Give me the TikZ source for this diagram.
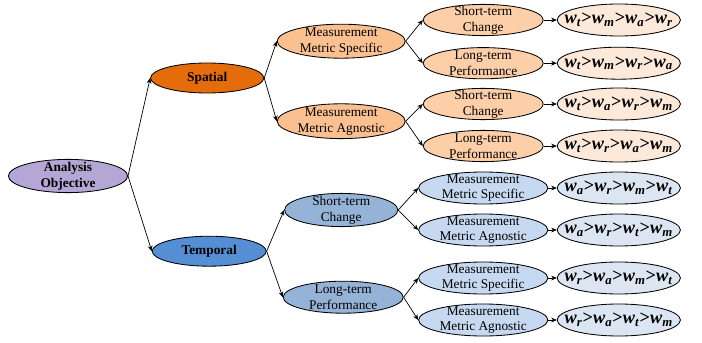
\documentclass[tikz,border=0pt]{standalone}
\usepackage{fontspec}
\setmainfont{Liberation Serif}
\usetikzlibrary{arrows.meta,positioning,shapes.geometric}
\definecolor{rootc}{HTML}{B4A7D6}
\definecolor{spac}{HTML}{E46C0A}
\definecolor{temc}{HTML}{558ED5}
\definecolor{orgB}{HTML}{FAC090}
\definecolor{orgC}{HTML}{FCCFA8}
\definecolor{orgD}{HTML}{FDE9D9}
\definecolor{bluB}{HTML}{95B3D7}
\definecolor{bluC}{HTML}{C6D9F1}
\definecolor{bluD}{HTML}{DCE6F2}
\newcommand{\wsub}[1]{\textit{w}\textsubscript{\textit{#1}}}
\newcommand{\rank}[4]{\textbf{\wsub{#1}>\wsub{#2}>\wsub{#3}>\wsub{#4}}}

\begin{document}
\begin{tikzpicture}[
    ell/.style={draw, ellipse, inner xsep=0pt, inner ysep=-4pt, align=center, font=\fontsize{9.5}{11.2}\selectfont, line width=0.6pt},
    res/.style={ell, inner xsep=-14pt, inner ysep=-2pt, minimum width=3.08cm, minimum height=0.8cm, font=\fontsize{13}{15}\selectfont},
    arr/.style={-{Stealth[length=1.4mm, width=1.2mm]}, line width=0.5pt, black},
]
\useasboundingbox (0,0) rectangle (17.55,-8.575);
% root and first level
\node[ell, fill=rootc, minimum width=2.98cm, minimum height=0.83cm, font=\fontsize{9.5}{11.2}\selectfont\bfseries] (root) at (1.70,-4.40) {Analysis\\Objective};
\node[ell, fill=spac, minimum width=2.83cm, minimum height=0.75cm, font=\fontsize{9.5}{11.2}\selectfont\bfseries] (spa) at (5.18,-1.95) {Spatial};
\node[ell, fill=temc, minimum width=2.85cm, minimum height=0.75cm, font=\fontsize{9.5}{11.2}\selectfont\bfseries] (tem) at (5.23,-6.28) {Temporal};

% second level
\node[ell, fill=orgB, minimum width=3.2cm, minimum height=0.85cm] (spams) at (8.53,-1.03) {Measurement\\Metric Specific};
\node[ell, fill=orgB, minimum width=3.2cm, minimum height=0.87cm] (spama) at (8.53,-3.03) {Measurement\\Metric Agnostic};
\node[ell, fill=bluB, minimum width=2.83cm, minimum height=0.83cm] (temsc) at (8.53,-5.25) {Short-term\\Change};
\node[ell, fill=bluB, minimum width=3.0cm, minimum height=0.8cm] (temlp) at (8.58,-7.43) {Long-term\\Performance};

% third level
\node[ell, fill=orgC, minimum width=3.0cm, minimum height=0.78cm] (sc1) at (12.08,-0.50) {Short-term\\Change};
\node[ell, fill=orgC, minimum width=3.0cm, minimum height=0.78cm] (lp1) at (12.08,-1.58) {Long-term\\Performance};
\node[ell, fill=orgC, minimum width=3.0cm, minimum height=0.78cm] (sc2) at (12.08,-2.60) {Short-term\\Change};
\node[ell, fill=orgC, minimum width=3.0cm, minimum height=0.78cm] (lp2) at (12.08,-3.65) {Long-term\\Performance};
\node[ell, fill=bluC, minimum width=3.23cm, minimum height=0.8cm] (ms1) at (12.08,-4.70) {Measurement\\Metric Specific};
\node[ell, fill=bluC, minimum width=3.23cm, minimum height=0.8cm] (ma1) at (12.08,-5.75) {Measurement\\Metric Agnostic};
\node[ell, fill=bluC, minimum width=3.23cm, minimum height=0.8cm] (ms2) at (12.08,-6.95) {Measurement\\Metric Specific};
\node[ell, fill=bluC, minimum width=3.23cm, minimum height=0.8cm] (ma2) at (12.08,-8.00) {Measurement\\Metric Agnostic};

% rankings
\node[res, fill=orgD] (r1) at (15.47,-0.50) {\rank{t}{m}{a}{r}};
\node[res, fill=orgD] (r2) at (15.47,-1.58) {\rank{t}{m}{r}{a}};
\node[res, fill=orgD] (r3) at (15.47,-2.60) {\rank{t}{a}{r}{m}};
\node[res, fill=orgD] (r4) at (15.47,-3.65) {\rank{t}{r}{a}{m}};
\node[res, fill=bluD] (r5) at (15.47,-4.70) {\rank{a}{r}{m}{t}};
\node[res, fill=bluD] (r6) at (15.47,-5.75) {\rank{a}{r}{t}{m}};
\node[res, fill=bluD] (r7) at (15.47,-6.95) {\rank{r}{a}{m}{t}};
\node[res, fill=bluD] (r8) at (15.47,-8.00) {\rank{r}{a}{t}{m}};

\draw[arr] (root.east) -- (spa.west);
\draw[arr] (root.east) -- (tem.west);
\draw[arr] (spa.east) -- (spams.west);
\draw[arr] (spa.east) -- (spama.west);
\draw[arr] (tem.east) -- (temsc.west);
\draw[arr] (tem.east) -- (temlp.west);
\draw[arr] (spams.east) -- (sc1.west);
\draw[arr] (spams.east) -- (lp1.west);
\draw[arr] (spama.east) -- (sc2.west);
\draw[arr] (spama.east) -- (lp2.west);
\draw[arr] (temsc.east) -- (ms1.west);
\draw[arr] (temsc.east) -- (ma1.west);
\draw[arr] (temlp.east) -- (ms2.west);
\draw[arr] (temlp.east) -- (ma2.west);
\draw[arr] (sc1) -- (r1);
\draw[arr] (lp1) -- (r2);
\draw[arr] (sc2) -- (r3);
\draw[arr] (lp2) -- (r4);
\draw[arr] (ms1) -- (r5);
\draw[arr] (ma1) -- (r6);
\draw[arr] (ms2) -- (r7);
\draw[arr] (ma2) -- (r8);
\end{tikzpicture}
\end{document}
